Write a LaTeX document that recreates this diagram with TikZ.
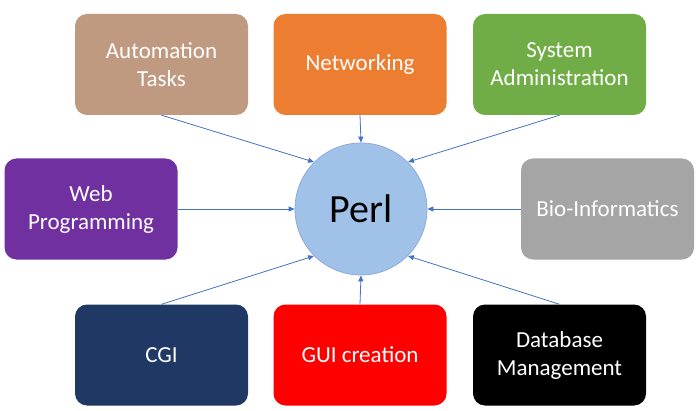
\documentclass[tikz,border=0pt]{standalone}
\usepackage{fontspec}
\setmainfont{Carlito}
\usetikzlibrary{arrows.meta}
\definecolor{autobrown}{HTML}{C09A80}
\definecolor{netorange}{HTML}{ED7D31}
\definecolor{sysgreen}{HTML}{70AD47}
\definecolor{webpurple}{HTML}{7030A0}
\definecolor{biogray}{HTML}{A5A5A5}
\definecolor{cginavy}{HTML}{1F3864}
\definecolor{guired}{HTML}{FF0000}
\definecolor{dbblack}{HTML}{000000}
\definecolor{perlfill}{HTML}{A0C2E8}
\definecolor{perlline}{HTML}{8EAADB}
\definecolor{arrowblue}{HTML}{4472C4}
\begin{document}
\begin{tikzpicture}[x=1pt,y=1pt,font=\fontsize{23}{28}\selectfont,
	box/.style={rectangle,rounded corners=12pt,minimum width=173pt,minimum height=101pt,inner sep=0pt,text=white,align=center},
	link/.style={-{Triangle[length=6pt,width=5pt]},draw=arrowblue,line width=0.8pt}]
	\useasboundingbox (0,0) rectangle (700,410);
	% topic boxes
	\foreach \n/\x/\y/\c/\t in {auto/161.5/345.5/autobrown/{Automation\\Tasks},
		net/360/345.5/netorange/{Networking},
		sys/559.5/345.5/sysgreen/{System\\Administration},
		web/91/201/webpurple/{Web\\Programming},
		bio/607.5/201/biogray/{Bio-Informatics},
		cgi/161.5/55/cginavy/{CGI},
		gui/360/55/guired/{GUI creation},
		db/559.5/55/dbblack/{Database\\Management}} {
		\node[box,fill=\c] (\n) at (\x,\y) {\t};
	};
	% centre
	\node[circle,fill=perlfill,draw=perlline,line width=0.8pt,minimum size=132pt,inner sep=0pt,font=\fontsize{40}{48}\selectfont] (perl) at (361,201) {Perl};
	% arrows into the circle
	\foreach \a/\b in {auto.south/135,net.south/north,sys.south/45,web.east/west,bio.west/east,cgi.north/225,gui.north/south,db.north/-45} {
		\draw[link] (\a) -- (perl.\b);
	};
\end{tikzpicture}
\end{document}
